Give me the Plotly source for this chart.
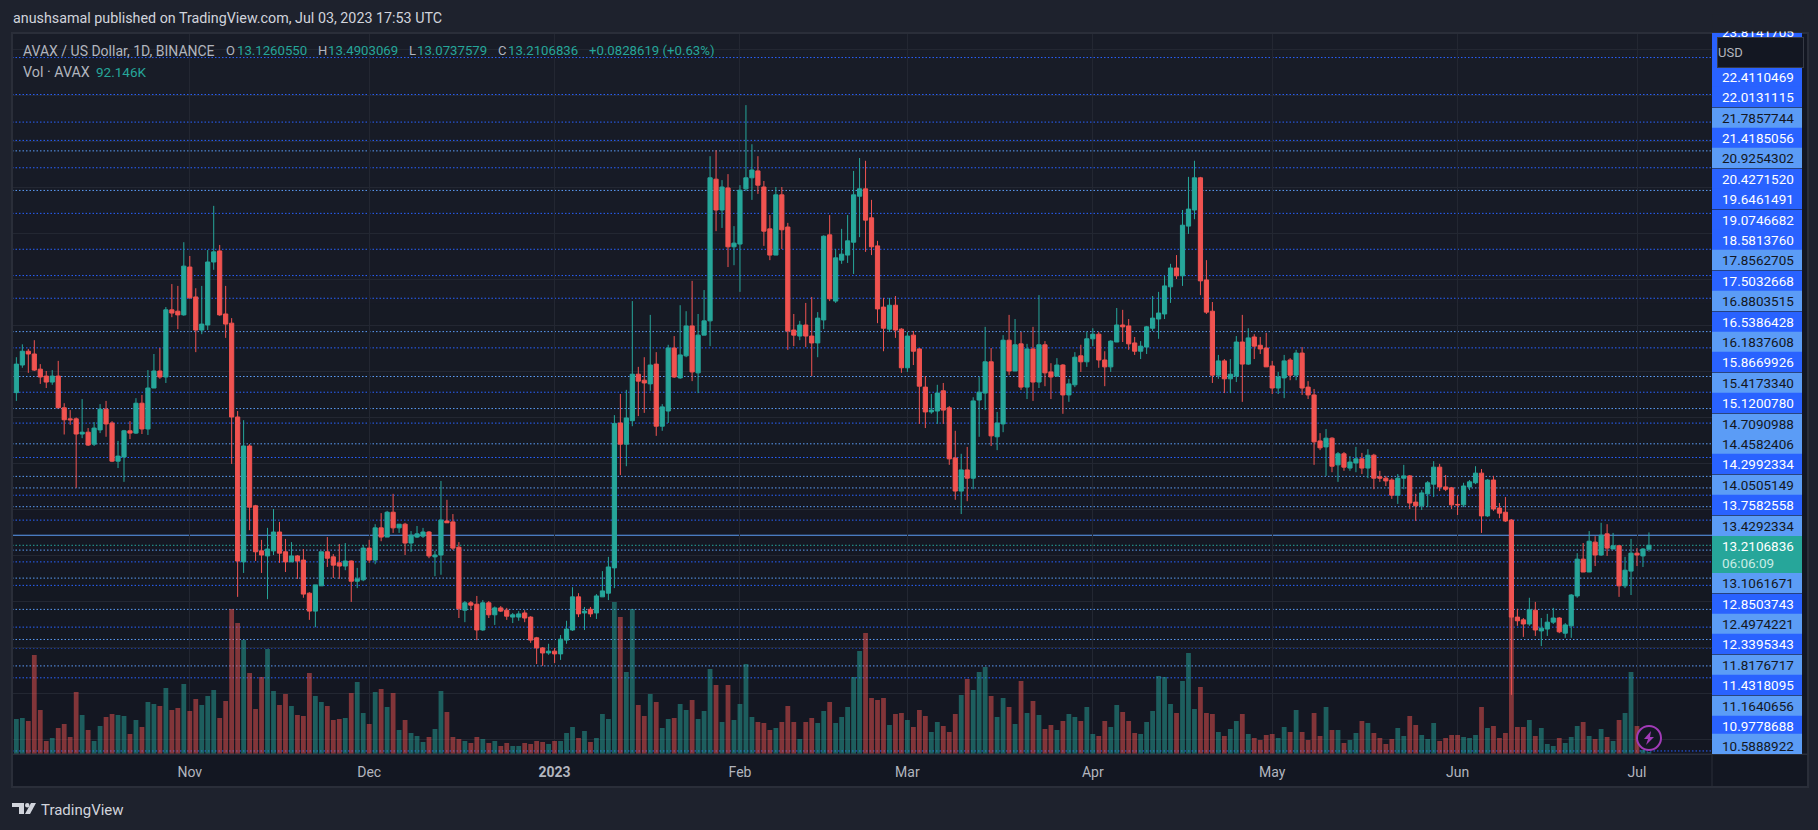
import pandas as pd
import plotly.graph_objects as go

# ─── FUNCIONES ──────────────────────────────────────────────
def px_x(p):
    return (p - 12) / 1700

def px_y(p):
    return (754 - p) / 721

def caja(fig, x0, y0, x1, y1, color, borde=None, capa="above"):
    fig.add_shape(
        type="rect", xref="paper", yref="paper", layer=capa,
        x0=px_x(x0), x1=px_x(x1), y0=px_y(y0), y1=px_y(y1),
        fillcolor=color,
        line=dict(color=borde, width=1) if borde else dict(width=0)
    )

def texto(fig, x, y, t, color="#d1d4dc", size=13, anchor="left"):
    fig.add_annotation(
        x=px_x(x), y=px_y(y), xref="paper", yref="paper", text=t,
        showarrow=False, xanchor=anchor, yanchor="middle", borderpad=0,
        font=dict(color=color, size=size)
    )

# ─── DATOS ──────────────────────────────────────────────────
# open, high, low, close, volumen (miles)
filas = [
    (None, None, None, None, 1170),
    (16.53, 17.30, 16.35, 17.15, 1575), (17.13, 17.58, 17.07, 17.43, 1620), (17.43, 17.48, 16.96, 17.37, 1485),
    (17.37, 17.67, 17.00, 17.02, 4455), (17.04, 17.15, 16.72, 16.87, 1980), (16.89, 17.00, 16.63, 16.76, 585),
    (16.76, 17.02, 16.70, 16.89, 720), (16.89, 17.22, 16.20, 16.20, 1170), (16.20, 16.30, 15.62, 15.94, 1350),
    (15.96, 16.15, 15.83, 15.94, 765), (15.96, 15.99, 14.46, 15.63, 2790), (15.63, 16.39, 15.54, 15.67, 1755),
    (15.67, 15.76, 15.37, 15.39, 1080), (15.41, 15.89, 15.37, 15.76, 585), (15.72, 16.28, 15.65, 16.17, 1260),
    (16.17, 16.35, 15.57, 15.85, 1665), (15.87, 15.91, 15.02, 15.04, 1800), (15.04, 15.48, 14.89, 15.15, 1755),
    (15.13, 15.72, 14.59, 15.70, 1710), (15.70, 15.91, 15.52, 15.65, 900), (15.65, 16.41, 15.63, 16.30, 1530),
    (16.30, 16.48, 15.63, 15.74, 1215), (15.74, 17.02, 15.61, 16.63, 2340), (16.63, 17.37, 16.63, 17.00, 2250),
    (17.00, 17.50, 16.83, 16.87, 2160), (16.87, 18.39, 16.74, 18.33, 2970), (18.33, 18.89, 18.17, 18.26, 1980),
    (18.30, 18.85, 17.91, 18.22, 2070), (18.22, 19.80, 18.20, 19.28, 3150), (19.26, 19.50, 18.57, 18.59, 1935),
    (18.61, 18.80, 17.41, 17.89, 2475), (17.89, 18.85, 17.80, 18.02, 2205), (18.00, 19.63, 17.89, 19.37, 2610),
    (19.37, 20.59, 19.20, 19.59, 2880), (19.61, 19.74, 18.20, 18.22, 1620), (18.24, 18.85, 17.72, 18.02, 2385),
    (18.04, 18.15, 14.98, 16.00, 6525), (16.00, 16.13, 12.09, 12.87, 5895), (12.85, 15.93, 12.61, 15.37, 5130),
    (15.37, 15.41, 13.54, 14.04, 3645), (14.07, 14.09, 12.87, 13.07, 2025), (13.09, 13.33, 12.61, 13.00, 3465),
    (12.98, 13.59, 12.04, 13.13, 4725), (13.09, 14.00, 13.00, 13.50, 2835), (13.50, 13.72, 12.83, 13.04, 2205),
    (13.07, 13.35, 12.63, 12.85, 2700), (12.85, 13.28, 12.85, 12.98, 2160), (12.98, 13.00, 12.48, 12.87, 1755),
    (12.89, 13.13, 12.07, 12.15, 1710), (12.17, 12.19, 11.59, 11.78, 3645), (11.78, 12.35, 11.43, 12.35, 2610),
    (12.33, 13.07, 12.33, 13.07, 2340), (13.07, 13.39, 12.74, 12.93, 2160), (12.96, 13.02, 12.50, 12.78, 1530),
    (12.83, 13.24, 12.48, 12.76, 1575), (12.76, 13.26, 12.67, 12.87, 1620), (12.87, 12.88, 11.98, 12.43, 2745),
    (12.43, 12.72, 12.28, 12.48, 3240), (12.46, 13.22, 12.43, 13.15, 1845), (13.15, 13.33, 12.83, 12.89, 1350),
    (12.89, 13.67, 12.80, 13.59, 2790), (13.59, 13.91, 13.30, 13.39, 2925), (13.39, 13.96, 13.39, 13.93, 2115),
    (13.93, 14.33, 13.48, 13.59, 2745), (13.59, 13.67, 13.48, 13.67, 1080), (13.67, 13.70, 13.00, 13.26, 1530),
    (13.26, 13.52, 13.07, 13.43, 945), (13.39, 13.63, 13.37, 13.46, 810), (13.41, 13.59, 13.37, 13.50, 540),
    (13.50, 13.52, 12.93, 12.98, 765), (12.96, 13.09, 12.54, 13.00, 1125), (13.00, 14.61, 12.57, 13.76, 2835),
    (13.74, 14.20, 13.70, 13.70, 1890), (13.72, 13.89, 13.11, 13.15, 765), (13.17, 13.28, 11.63, 11.83, 675),
    (11.80, 12.00, 11.54, 11.96, 585), (11.96, 12.00, 11.80, 11.91, 495), (11.93, 12.11, 11.15, 11.37, 765),
    (11.37, 12.02, 11.35, 11.96, 675), (11.96, 12.00, 11.63, 11.70, 495), (11.70, 11.88, 11.48, 11.85, 585),
    (11.85, 11.89, 11.76, 11.78, 360), (11.80, 11.85, 11.59, 11.67, 495), (11.65, 11.74, 11.52, 11.70, 360),
    (11.65, 11.78, 11.57, 11.72, 360), (11.74, 11.80, 11.54, 11.63, 495), (11.65, 11.67, 11.09, 11.15, 450),
    (11.20, 11.22, 10.63, 10.98, 585), (10.98, 11.00, 10.59, 10.87, 540), (10.87, 11.07, 10.83, 10.91, 450),
    (10.91, 10.98, 10.65, 10.85, 585), (10.85, 11.26, 10.72, 11.17, 585), (11.15, 11.57, 11.07, 11.39, 945),
    (11.37, 12.30, 11.35, 12.09, 1215), (12.09, 12.17, 11.65, 11.72, 720), (11.74, 11.87, 11.37, 11.78, 1035),
    (11.82, 11.87, 11.65, 11.72, 540), (11.74, 12.15, 11.61, 12.11, 720), (12.09, 12.65, 12.09, 12.22, 1800),
    (12.17, 12.96, 12.02, 12.74, 1575), (12.72, 16.04, 12.28, 15.86, 6840), (15.87, 16.50, 14.74, 15.41, 6165),
    (15.41, 16.59, 14.93, 15.98, 3690), (15.92, 18.52, 15.80, 16.93, 6525), (16.93, 17.09, 16.02, 16.78, 2205),
    (16.80, 17.30, 16.09, 16.74, 1710), (16.72, 18.22, 16.57, 17.13, 2700), (17.15, 17.41, 15.59, 15.80, 2340),
    (15.80, 16.28, 15.70, 16.22, 1170), (16.13, 17.57, 15.87, 17.50, 1575), (17.50, 17.76, 16.85, 16.87, 1620),
    (16.85, 18.43, 16.83, 17.35, 2250), (17.33, 18.30, 17.30, 17.98, 1980), (17.98, 18.96, 16.78, 16.98, 2430),
    (16.96, 18.24, 16.52, 17.78, 1575), (17.78, 18.76, 17.78, 18.09, 1935), (18.09, 21.67, 17.54, 21.20, 3825),
    (21.17, 21.80, 20.04, 20.50, 3105), (20.50, 21.15, 20.11, 21.00, 1440), (20.98, 21.28, 19.26, 19.70, 3105),
    (19.70, 20.15, 19.30, 19.78, 1530), (19.76, 21.04, 18.72, 20.93, 2250), (20.96, 22.78, 20.91, 21.20, 4050),
    (21.20, 21.93, 20.72, 21.37, 1665), (21.35, 21.67, 20.85, 21.04, 1440), (21.00, 21.13, 19.72, 20.04, 1395),
    (20.09, 20.39, 19.41, 19.52, 1080), (19.52, 21.00, 19.52, 20.83, 1170), (20.83, 21.00, 19.65, 20.07, 1440),
    (20.13, 20.22, 17.46, 17.87, 2160), (17.89, 18.24, 17.54, 17.78, 1440), (17.76, 18.09, 17.67, 18.00, 675),
    (18.00, 18.48, 17.52, 17.76, 1440), (17.76, 18.61, 16.89, 17.61, 1620), (17.61, 18.28, 17.30, 18.15, 1395),
    (18.11, 19.95, 17.91, 19.93, 1935), (19.96, 20.39, 18.52, 18.57, 2340), (18.52, 19.65, 18.48, 19.46, 1395),
    (19.41, 20.09, 19.33, 19.54, 1665), (19.52, 20.39, 19.35, 19.83, 2115), (19.80, 21.35, 19.11, 20.83, 3465),
    (20.80, 21.63, 19.91, 20.96, 4635), (20.96, 21.57, 19.59, 20.28, 5445), (20.33, 20.72, 19.52, 19.70, 2520),
    (19.72, 19.83, 18.04, 18.35, 2430), (18.39, 18.59, 17.43, 17.93, 2520), (17.91, 18.59, 17.85, 18.43, 1305),
    (18.43, 18.63, 17.72, 17.89, 1800), (17.91, 17.93, 16.96, 17.07, 1845), (17.07, 17.85, 16.98, 17.76, 1530),
    (17.78, 17.87, 17.13, 17.43, 1215), (17.48, 17.50, 15.85, 16.67, 1980), (16.65, 16.89, 15.76, 16.11, 1710),
    (16.11, 16.50, 16.07, 16.15, 990), (16.13, 16.70, 15.85, 16.52, 1440), (16.57, 16.74, 15.85, 16.15, 1260),
    (16.20, 16.24, 14.96, 15.09, 990), (15.11, 15.70, 14.20, 14.39, 1800), (14.39, 15.20, 13.89, 14.85, 2655),
    (14.85, 15.35, 14.17, 14.67, 3375), (14.67, 16.43, 14.43, 16.35, 2880), (16.37, 16.87, 15.57, 16.54, 3690),
    (16.52, 17.96, 16.15, 17.20, 3915), (17.20, 17.50, 15.37, 15.59, 2610), (15.57, 16.11, 15.28, 15.87, 1665),
    (15.85, 17.78, 15.67, 17.67, 2520), (17.67, 18.22, 16.91, 17.00, 2115), (17.00, 18.13, 17.00, 17.57, 1350),
    (17.59, 17.85, 16.59, 16.65, 3285), (16.65, 17.59, 16.39, 17.48, 1845), (17.48, 17.96, 16.35, 16.76, 2385),
    (16.76, 18.65, 16.63, 17.57, 1755), (17.57, 17.65, 16.67, 16.96, 1125), (16.98, 17.17, 16.39, 16.87, 1305),
    (16.89, 17.28, 16.87, 17.13, 1080), (17.13, 17.15, 16.07, 16.48, 1485), (16.48, 16.83, 16.33, 16.72, 1800),
    (16.70, 17.41, 16.65, 17.30, 1665), (17.33, 17.57, 16.98, 17.20, 1485), (17.20, 17.85, 17.09, 17.70, 2115),
    (17.70, 17.93, 17.54, 17.80, 900), (17.80, 17.85, 17.07, 17.24, 810), (17.24, 17.43, 16.67, 17.09, 1485),
    (17.09, 17.67, 16.98, 17.65, 1215), (17.63, 18.37, 17.63, 18.00, 2205), (18.00, 18.33, 17.63, 17.96, 1890),
    (17.98, 18.13, 17.46, 17.59, 1485), (17.61, 17.74, 17.35, 17.43, 945), (17.43, 17.65, 17.26, 17.54, 900),
    (17.52, 17.98, 17.37, 17.96, 1440), (17.93, 18.63, 17.87, 18.15, 1935), (18.13, 18.72, 17.70, 18.26, 3510),
    (18.24, 19.07, 18.13, 18.85, 3465), (18.83, 19.33, 18.48, 19.24, 2250), (19.24, 19.52, 19.00, 19.07, 1845),
    (19.07, 20.50, 18.85, 20.17, 3285), (20.15, 21.22, 19.98, 20.52, 4545), (20.50, 21.57, 20.30, 21.20, 2025),
    (21.20, 21.22, 18.65, 18.96, 3015), (18.98, 19.41, 18.24, 18.28, 1845), (18.30, 18.50, 16.74, 16.91, 1800),
    (16.91, 17.35, 16.83, 17.22, 990), (17.22, 17.26, 16.52, 16.83, 810), (16.83, 17.26, 16.52, 16.93, 1125),
    (16.89, 17.76, 16.76, 17.63, 1485), (17.63, 18.22, 16.33, 17.15, 1800), (17.15, 17.93, 17.13, 17.72, 900),
    (17.74, 17.80, 17.26, 17.54, 720), (17.56, 17.74, 17.37, 17.48, 630), (17.50, 17.83, 17.09, 17.09, 855),
    (17.11, 17.22, 16.50, 16.63, 900), (16.63, 16.98, 16.50, 16.87, 720), (16.85, 17.35, 16.41, 17.22, 1215),
    (17.24, 17.28, 16.80, 16.91, 990), (16.91, 17.46, 16.80, 17.39, 1980), (17.39, 17.52, 16.48, 16.63, 990),
    (16.65, 16.78, 16.39, 16.48, 630), (16.48, 16.61, 14.96, 15.46, 1845), (15.48, 15.65, 15.28, 15.33, 810),
    (15.35, 15.74, 14.72, 15.54, 2115), (15.54, 15.56, 14.80, 14.93, 1080), (14.96, 15.24, 14.59, 15.20, 1080),
    (15.20, 15.24, 14.83, 14.91, 495), (14.89, 15.15, 14.83, 15.02, 630), (15.00, 15.35, 14.80, 15.09, 945),
    (15.09, 15.22, 14.76, 14.89, 1485), (14.89, 15.30, 14.67, 15.17, 1395), (15.17, 15.20, 14.43, 14.67, 945),
    (14.70, 14.83, 14.59, 14.67, 720), (14.67, 14.72, 14.50, 14.61, 450), (14.63, 14.67, 14.22, 14.30, 675),
    (14.30, 14.76, 14.11, 14.67, 1170), (14.67, 14.96, 14.43, 14.72, 810), (14.72, 14.74, 14.00, 14.13, 1710),
    (14.15, 14.33, 13.74, 14.07, 1305), (14.07, 14.41, 13.98, 14.35, 855), (14.33, 14.61, 14.04, 14.57, 675),
    (14.54, 15.04, 14.26, 14.91, 1395), (14.91, 14.98, 14.39, 14.48, 585), (14.48, 14.74, 14.39, 14.43, 720),
    (14.46, 14.48, 14.00, 14.09, 855), (14.10, 14.30, 13.87, 14.09, 855), (14.09, 14.57, 14.04, 14.50, 765),
    (14.48, 14.63, 14.41, 14.59, 720), (14.57, 14.93, 14.54, 14.78, 855), (14.78, 14.87, 13.48, 13.85, 2115),
    (13.85, 14.65, 13.83, 14.63, 1170), (14.63, 14.72, 13.96, 14.00, 1260), (14.02, 14.13, 13.80, 13.91, 720),
    (13.93, 14.26, 13.72, 13.74, 945), (13.76, 13.78, 9.96, 11.65, 6165), (11.65, 11.83, 11.46, 11.57, 1215),
    (11.59, 11.63, 11.22, 11.50, 1215), (11.50, 12.07, 11.46, 11.81, 1530), (11.80, 11.98, 11.24, 11.37, 810),
    (11.35, 11.63, 11.02, 11.41, 1170), (11.39, 11.72, 11.24, 11.54, 450), (11.54, 11.85, 11.50, 11.63, 360),
    (11.63, 11.65, 11.30, 11.33, 720), (11.30, 11.52, 11.20, 11.48, 495), (11.46, 12.15, 11.20, 12.13, 765),
    (12.11, 13.04, 12.07, 12.91, 1260), (12.91, 13.26, 12.63, 12.63, 1440), (12.63, 13.52, 12.63, 13.30, 810),
    (13.28, 13.41, 12.76, 13.00, 675), (13.00, 13.70, 12.98, 13.43, 1125), (13.46, 13.67, 12.98, 13.15, 765),
    (13.13, 13.48, 13.13, 13.20, 585), (13.20, 13.22, 12.09, 12.33, 1530), (12.33, 12.96, 12.28, 12.67, 1845),
    (12.65, 13.35, 12.13, 13.04, 3690), (13.04, 13.15, 12.76, 13.00, 1260), (12.98, 13.15, 12.74, 13.13, 180),
    (13.1260550, 13.4903069, 13.0737579, 13.2106836, 92.146),
]

df = pd.DataFrame(filas, columns=["open", "high", "low", "close", "vol"])
df["fecha"] = pd.date_range("2022-10-02", periods=len(df), freq="D")
df["color_vol"] = ["rgba(38,166,154,0.5)" if c >= o else "rgba(239,83,80,0.5)" for o, c in zip(df["open"], df["close"])]
velas = df.iloc[1:]

# niveles dibujados: precio y color
AZUL = "#2962ff"
CELESTE = "#5b9cf6"
niveles = [
    (23.8141705, AZUL), (23.01, AZUL), (22.4110469, AZUL), (22.0131115, AZUL), (21.7857744, CELESTE), (21.4185056, AZUL),
    (20.9254302, CELESTE), (20.4271520, AZUL), (19.6461491, AZUL), (19.0746682, AZUL), (18.5813760, AZUL),
    (17.8562705, CELESTE), (17.5032668, AZUL), (16.8803515, CELESTE), (16.5386428, AZUL), (16.1837608, CELESTE),
    (15.8669926, AZUL), (15.4173340, CELESTE), (15.1200780, AZUL), (14.7090988, CELESTE), (14.4582406, CELESTE),
    (14.2992334, AZUL), (14.0505149, CELESTE), (13.7582558, AZUL), (13.1061671, CELESTE), (12.8503743, AZUL),
    (12.4974221, CELESTE), (12.3395343, AZUL), (11.8176717, CELESTE), (11.4318095, AZUL), (11.1640656, CELESTE),
    (10.9778688, AZUL), (10.5888922, CELESTE), (10.33, AZUL), (8.74, AZUL),
]

# etiquetas de la escala: texto, centro en pixeles, color
etiquetas = [
    ("22.4110469", 77, AZUL), ("22.0131115", 97, AZUL), ("21.7857744", 118, CELESTE), ("21.4185056", 138, AZUL),
    ("20.9254302", 158, CELESTE), ("20.4271520", 179, AZUL), ("19.6461491", 199, AZUL), ("19.0746682", 220, AZUL),
    ("18.5813760", 240, AZUL), ("17.8562705", 260, CELESTE), ("17.5032668", 281, AZUL), ("16.8803515", 301, CELESTE),
    ("16.5386428", 322, AZUL), ("16.1837608", 342, CELESTE), ("15.8669926", 362, AZUL), ("15.4173340", 383, CELESTE),
    ("15.1200780", 403, AZUL), ("14.7090988", 424, CELESTE), ("14.4582406", 444, CELESTE), ("14.2992334", 464, AZUL),
    ("14.0505149", 485, CELESTE), ("13.7582558", 505, AZUL), ("13.4292334", 526, CELESTE), ("13.1061671", 583, CELESTE),
    ("12.8503743", 604, AZUL), ("12.4974221", 624, CELESTE), ("12.3395343", 644, AZUL), ("11.8176717", 665, CELESTE),
    ("11.4318095", 685, AZUL), ("11.1640656", 706, CELESTE), ("10.9778688", 726, AZUL), ("10.5888922", 744, CELESTE),
]

# ─── FIGURA ─────────────────────────────────────────────────
fig = go.Figure()

fig.add_trace(go.Bar(x=df["fecha"], y=df["vol"], marker_color=df["color_vol"], marker_line_width=0, width=86400000 * 0.8, yaxis="y"))

fig.add_trace(go.Candlestick(
    x=velas["fecha"], open=velas["open"], high=velas["high"], low=velas["low"], close=velas["close"],
    increasing=dict(line=dict(color="#26a69a", width=1), fillcolor="#26a69a"),
    decreasing=dict(line=dict(color="#f05350", width=1), fillcolor="#f05350"),
    whiskerwidth=0, yaxis="y2"
))

fig.update_layout(
    width=1818,
    height=830,
    showlegend=False,
    hovermode=False,
    boxgap=0.3,
    boxgroupgap=0,
    paper_bgcolor="#1e222d",
    plot_bgcolor="#151924",
    font=dict(family="Roboto", size=13, color="#d1d4dc"),
    margin=dict(l=12, r=106, t=33, b=76, autoexpand=False),
    xaxis=dict(
        type="date",
        range=["2022-10-02 06:30", "2023-07-13 13:00"],
        rangeslider=dict(visible=False),
        tickvals=["2022-11-01", "2022-12-01", "2023-01-01", "2023-02-01", "2023-03-01", "2023-04-01", "2023-05-01", "2023-06-01", "2023-07-01"],
        ticktext=["Nov", "Dec", "<b>2023</b>", "Feb", "Mar", "Apr", "May", "Jun", "Jul"],
        ticks="", ticklabelstandoff=8,
        tickfont=dict(color="#b2b5be", size=14),
        gridcolor="#232732", zeroline=False, showline=False
    ),
    yaxis=dict(range=[0, 32445], visible=False, showgrid=False, fixedrange=True),
    yaxis2=dict(
        range=[8.674, 24.348], overlaying="y", side="right", dtick=1, tick0=0,
        showticklabels=False, ticks="", gridcolor="#232732", zeroline=False, showline=False
    ),
)

# ─── FONDOS Y BORDES ────────────────────────────────────────
# degradado del panel, de arriba abajo
tonos = ["#181c27", "#171b26", "#171a25", "#161a24", "#151923", "#151823", "#141822", "#141722"]
for n, tono in enumerate(tonos):
    caja(fig, 12, 33 + n * 721 / 8, 1712, 33 + (n + 1) * 721 / 8, tono, capa="below")

caja(fig, 12, 754, 1808, 787, "#131722", capa="below")
caja(fig, 1712, 33, 1808, 787, "#131722", capa="below")
for x0, y0, x1, y1 in [(11, 32, 1808, 34), (11, 786, 1808, 788), (11, 32, 13, 788), (1807, 32, 1809, 788), (12, 753.5, 1808, 755), (1711.5, 754, 1712.5, 787)]:
    caja(fig, x0, y0, x1, y1, "#2a2e39")

# ─── NIVELES ────────────────────────────────────────────────
for precio, color in niveles:
    fig.add_shape(type="line", xref="paper", yref="y2", layer="between", x0=0, x1=1, y0=precio, y1=precio, line=dict(color=color, width=1, dash="1.5px,2px"))

fig.add_shape(type="line", xref="paper", yref="y2", layer="between", x0=0, x1=1, y0=13.4292334, y1=13.4292334, line=dict(color=CELESTE, width=1.2))
fig.add_shape(type="line", xref="paper", yref="y2", layer="between", x0=0, x1=1, y0=13.2106836, y1=13.2106836, line=dict(color="#26a69a", width=1, dash="1.5px,2px"))

# ─── ESCALA DE PRECIOS ──────────────────────────────────────
caja(fig, 1712, 33, 1802, 67, AZUL)
texto(fig, 1795, 32, "23.8141705", "#ffffff", 13.5, "right")
for t, y, color in etiquetas:
    caja(fig, 1712, y - 10.2, 1802, min(y + 10.2, 754), color)
    texto(fig, 1795, y + (2 if t == "10.5888922" else 0), t, "#ffffff" if color == AZUL else "#131722", 13.5, "right")

caja(fig, 1712, 536, 1802, 573, "#26a69a")
texto(fig, 1795, 546, "13.2106836", "#ffffff", 13.5, "right")
texto(fig, 1721, 563, "06:06:09", "#c8ebe5", 13.5)

# tapa la parte cortada de la primera etiqueta
fig.add_annotation(x=px_x(1712), y=px_y(32.5), xref="paper", yref="paper", text=" ", showarrow=False,
                   xanchor="left", yanchor="bottom", width=90, height=16, bgcolor="#1e222d", borderpad=0)
fig.add_annotation(x=px_x(1717), y=px_y(53), xref="paper", yref="paper", text="USD", showarrow=False,
                   xanchor="left", yanchor="middle", align="left", width=85, height=29, bgcolor="#131722",
                   bordercolor="#363a45", borderwidth=1, borderpad=0, font=dict(color="#b2b5be", size=13))

# ─── TEXTOS ─────────────────────────────────────────────────
VERDE = "#26a69a"
texto(fig, 12, 18, "anushsamal published on TradingView.com, Jul 03, 2023 17:53 UTC", "#d1d4dc", 14.3)
texto(fig, 22, 51, "AVAX / US Dollar, 1D, BINANCE", "#b2b5be", 14)
for x, t in [(225, "O"), (317, "H"), (408, "L"), (497, "C")]:
    texto(fig, x, 51, t, "#b2b5be", 13)
for x, t in [(236, "13.1260550"), (327, "13.4903069"), (416, "13.0737579"), (507, "13.2106836"), (588, "+0.0828619 (+0.63%)")]:
    texto(fig, x, 51, t, VERDE, 13.2)
texto(fig, 22, 72, "Vol · AVAX", "#b2b5be", 14.3)
texto(fig, 95, 72, "92.146K", VERDE, 13.5)
texto(fig, 40, 810, "TradingView", "#d1d4dc", 15)

# logo
fig.add_shape(type="path", xref="paper", yref="paper", fillcolor="#d1d4dc", line=dict(width=0),
              path=f"M {px_x(12)} {px_y(803)} L {px_x(24)} {px_y(803)} L {px_x(24)} {px_y(814)} L {px_x(19)} {px_y(814)} L {px_x(19)} {px_y(807)} L {px_x(12)} {px_y(807)} Z")
fig.add_shape(type="path", xref="paper", yref="paper", fillcolor="#d1d4dc", line=dict(width=0),
              path=f"M {px_x(31)} {px_y(803)} L {px_x(36)} {px_y(803)} L {px_x(30)} {px_y(814)} L {px_x(25)} {px_y(814)} Z")
fig.add_shape(type="circle", xref="paper", yref="paper", fillcolor="#d1d4dc", line=dict(width=0),
              x0=px_x(25), x1=px_x(29.5), y0=px_y(803), y1=px_y(807.5))

# rayo
fig.add_shape(type="circle", xref="paper", yref="paper", fillcolor="#131722", line=dict(color="#a23bb8", width=2),
              x0=px_x(1637), x1=px_x(1661), y0=px_y(726), y1=px_y(750))
fig.add_shape(type="path", xref="paper", yref="paper", fillcolor="#a23bb8", line=dict(width=0),
              path=f"M {px_x(1651)} {px_y(731)} L {px_x(1644)} {px_y(739)} L {px_x(1648)} {px_y(739)} L {px_x(1646)} {px_y(745)} L {px_x(1654)} {px_y(737)} L {px_x(1650)} {px_y(737)} Z")

fig.write_html("out.html", config={"displayModeBar": False}, post_script="document.body.style.margin='0';")
